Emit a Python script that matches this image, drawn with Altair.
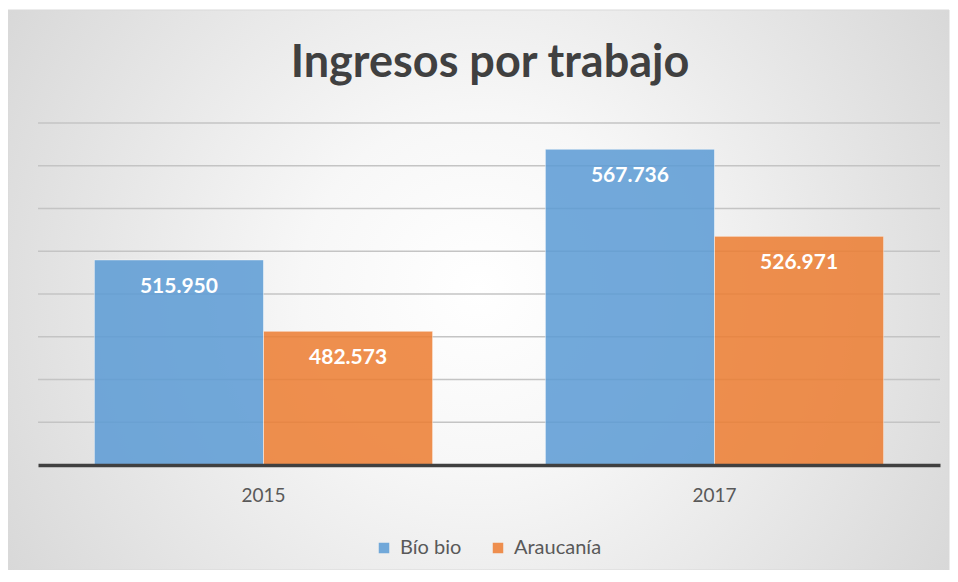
import altair as alt
import pandas as pd

title_text = "Ingresos por trabajo"
years = ["2015", "2015", "2017", "2017"]
regions = ["Bío bio", "Araucanía", "Bío bio", "Araucanía"]
values = [515950, 482573, 567736, 526971]
series_order = ["Bío bio", "Araucanía"]
series_colors = ["#5B9BD5", "#ED7D31"]
y_ticks = [420000, 440000, 460000, 480000, 500000, 520000, 540000, 560000, 580000]
y_min, y_max = 420000, 580000

df = pd.DataFrame({
    "year": years,
    "region": regions,
    "value": values,
    "label": [f"{v:,}".replace(",", ".") for v in values],
})
grid_df = pd.DataFrame({"tick": y_ticks[1:]})

W, H = 902, 342
FONT = "Lato"

yscale = alt.Scale(domain=[y_min, y_max], nice=False, zero=False)

bg = alt.Chart(pd.DataFrame({"a": [0]})).mark_rect(
    fill=alt.RadialGradient(
        gradient="radial",
        x1=0.5, y1=0.5, r1=0, x2=0.5, y2=0.5, r2=0.75,
        stops=[alt.GradientStop(offset=0, color="#ffffff"),
               alt.GradientStop(offset=0.25, color="#f7f7f7"),
               alt.GradientStop(offset=1, color="#cbcbcb")],
    ),
    stroke="#d9d9d9",
    strokeWidth=1,
).encode(
    x=alt.value(-30), x2=alt.value(W + 9),
    y=alt.value(-113), y2=alt.value(H + 105),
)

title = alt.Chart(pd.DataFrame({"t": [title_text]})).mark_text(
    font=FONT, fontSize=45, fontWeight="bold", color="#404040",
    align="center", baseline="middle",
).encode(x=alt.value(W / 2 + 1), y=alt.value(-60), text="t:N")

grid = alt.Chart(grid_df).mark_rule(color="#c4c4c4", strokeWidth=1.3).encode(
    y=alt.Y("tick:Q", scale=yscale, axis=None),
    x=alt.value(0), x2=alt.value(W),
)

base = alt.Chart(df).encode(
    x=alt.X("year:N", title=None,
            scale=alt.Scale(paddingInner=0.25, paddingOuter=0.125),
            axis=alt.Axis(labelAngle=0, labelFontSize=19, labelColor="#595959",
                          labelFont=FONT, ticks=False, labelPadding=21,
                          domainColor="#404040", domainWidth=3.5, grid=False,
                          zindex=1)),
    xOffset=alt.XOffset("region:N", sort=series_order,
                        scale=alt.Scale(paddingInner=0, paddingOuter=0)),
)

bars = base.mark_bar(opacity=0.85, stroke="#ffffff", strokeOpacity=0.5, strokeWidth=1).encode(
    y=alt.Y("value:Q", title=None, scale=yscale, axis=None),
    y2=alt.datum(y_min),
    color=alt.Color("region:N", sort=series_order,
                    scale=alt.Scale(domain=series_order, range=series_colors),
                    legend=alt.Legend(title=None, orient="none", direction="horizontal",
                                      legendX=336, legendY=415,
                                      symbolType="square", symbolSize=110,
                                      symbolOpacity=0.85, symbolStrokeWidth=0,
                                      labelFontSize=20, labelColor="#595959",
                                      labelFont=FONT, labelOffset=6,
                                      columnPadding=26)),
)

labels = base.mark_text(color="white", fontWeight="bold", fontSize=21, font=FONT,
                        baseline="middle", dy=27).encode(
    y=alt.Y("value:Q", scale=yscale, axis=None),
    text="label:N",
)

chart = alt.layer(bg, title, grid, bars, labels).properties(
    width=W, height=H,
    padding={"left": 30, "top": 115, "right": 10, "bottom": 105},
    autosize=alt.AutoSizeParams(type="none"),
).configure_view(stroke=None)

chart.save("out.html", embed_options={"renderer": "svg", "actions": False})
